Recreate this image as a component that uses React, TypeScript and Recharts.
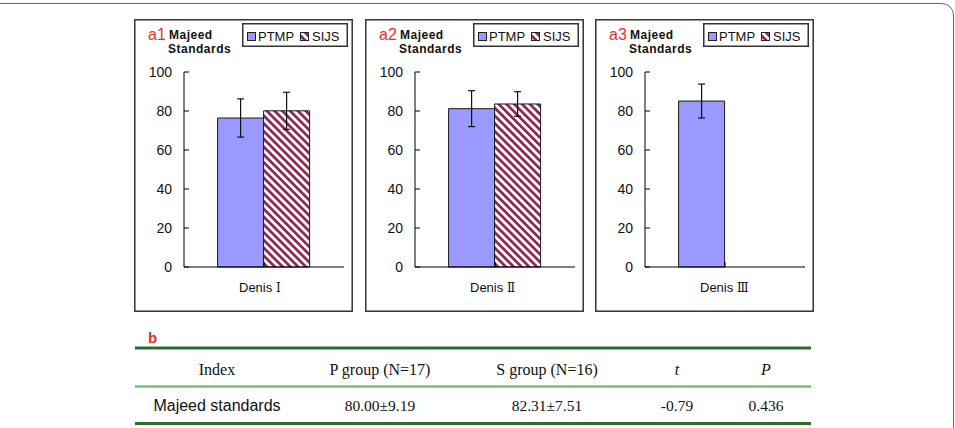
import React from 'react';
import { BarChart, Bar, XAxis, YAxis, ErrorBar, ReferenceLine } from 'recharts';

// ---- data ----
const panelLabels = ['a1', 'a2', 'a3'];
const categories = ['Denis Ⅰ', 'Denis Ⅱ', 'Denis Ⅲ'];
const ptmpValues = [76.4, 81.2, 85.1];
const ptmpErrors = [9.8, 9.2, 8.7];
const sijsValues: (number | null)[] = [80.1, 83.6, null];
const sijsErrors: (number | null)[] = [9.5, 6.3, null];
const yTicks = [0, 20, 40, 60, 80, 100];
const seriesNames = ['PTMP', 'SIJS'];
const panelTitle = ['Majeed', 'Standards'];
const tableLabel = 'b';
const tableHeaders = ['Index', 'P group (N=17)', 'S group (N=16)', 't', 'P'];
const tableRow = ['Majeed standards', '80.00±9.19', '82.31±7.51', '-0.79', '0.436'];

// ---- styles ----
const SANS = '"Liberation Sans", Arial, sans-serif';
const SERIF = '"Liberation Serif", "Times New Roman", serif';
const PTMP_FILL = '#9999FF';
const HATCH = '#8E2A55';
const RED = '#E5322D';
const panelLefts = [134, 365, 595];
const PANEL_TOP = 19;
const PANEL_W = 219;
const PANEL_H = 293;

const YTick = (props: any) => {
  const { x, y, payload } = props;
  return (
    <g>
      <line x1={x + 12} x2={x + 17} y1={y} y2={y} stroke="#000" strokeWidth={1} />
      <text x={x} y={y} dy={5} textAnchor="end" fontSize={14} fontFamily={SANS} fill="#111">
        {payload.value}
      </text>
    </g>
  );
};

const XTick = (props: any) => {
  const { x, y, payload } = props;
  const s = String(payload.value);
  const idx = s.lastIndexOf(' ');
  const word = s.slice(0, idx);
  const num = s.slice(idx + 1);
  return (
    <text x={x - 25} y={y + 25} textAnchor="start" fontSize={13} fontFamily={SANS} fill="#111">
      <tspan>{word} </tspan>
      <tspan fontFamily={'"DejaVu Serif", "Noto Sans CJK SC", serif'} fontSize={12}>{num}</tspan>
    </text>
  );
};

function Panel({ i }: { i: number }) {
  const data = [
    {
      cat: categories[i],
      ptmp: ptmpValues[i],
      ptmpErr: ptmpErrors[i],
      sijs: sijsValues[i],
      sijsErr: sijsErrors[i],
    },
  ];
  return (
    <div style={{ position: 'absolute', left: panelLefts[i], top: PANEL_TOP, width: PANEL_W, height: PANEL_H }}>
      <BarChart
        width={PANEL_W}
        height={PANEL_H}
        data={data}
        margin={{ top: 53, right: 9, bottom: 0, left: 0 }}
        barCategoryGap="21%"
        barGap={0}
      >
        <XAxis
          dataKey="cat"
          height={45}
          tickLine={false}
          tickSize={0}
          tickMargin={0}
          axisLine={{ stroke: '#000', strokeWidth: 1 }}
          tick={<XTick />}
          interval={0}
        />
        <XAxis xAxisId="edge" type="number" domain={[0, 1]} hide />
        <YAxis
          width={50}
          domain={[0, 100]}
          ticks={yTicks}
          interval={0}
          tickLine={false}
          tickSize={0}
          tickMargin={12}
          axisLine={{ stroke: '#000', strokeWidth: 1 }}
          tick={<YTick />}
        />
        <ReferenceLine
          xAxisId="edge"
          segment={[{ x: 1, y: 0 }, { x: 1, y: 2.6 }]}
          stroke="#000"
          strokeWidth={1}
        />
        <Bar dataKey="ptmp" fill={PTMP_FILL} stroke="#1a1a1a" strokeWidth={1} isAnimationActive={false}>
          <ErrorBar dataKey="ptmpErr" width={3.5} stroke="#111" strokeWidth={1.2} direction="y" />
        </Bar>
        <Bar dataKey="sijs" fill="url(#hatchSIJS)" stroke="#1a1a1a" strokeWidth={1} isAnimationActive={false}>
          <ErrorBar dataKey="sijsErr" width={3.5} stroke="#111" strokeWidth={1.2} direction="y" />
        </Bar>
      </BarChart>
      <svg
        width={PANEL_W}
        height={PANEL_H}
        style={{ position: 'absolute', left: 0, top: 0, pointerEvents: 'none' }}
      >
        <rect x={0.75} y={0.75} width={PANEL_W - 1.5} height={PANEL_H - 1.5} fill="none" stroke="#3a3a3a" strokeWidth={1.6} />
        <text x={14} y={21} fontSize={16} fontFamily={SANS} fill={RED}>{panelLabels[i]}</text>
        <text x={35} y={20} fontSize={12} letterSpacing={0.5} fontWeight="bold" fontFamily={SANS} fill="#111">{panelTitle[0]}</text>
        <text x={34} y={33.5} fontSize={12} letterSpacing={0.5} fontWeight="bold" fontFamily={SANS} fill="#111">{panelTitle[1]}</text>
        <rect x={108.75} y={4.75} width={104.5} height={22.5} fill="#fff" stroke="#333" strokeWidth={1.5} />
        <rect x={113.5} y={13.5} width={8} height={8} fill={PTMP_FILL} stroke="#222" strokeWidth={1} />
        <text x={124} y={22} fontSize={13} fontFamily={SANS} fill="#111">{seriesNames[0]}</text>
        <rect x={166.5} y={13.5} width={8} height={8} fill="url(#hatchSIJS)" stroke="#222" strokeWidth={1} />
        <text x={178} y={22} fontSize={13} fontFamily={SANS} fill="#111">{seriesNames[1]}</text>
      </svg>
    </div>
  );
}

export default function App() {
  const colX = [217, 380, 547, 677, 766];
  return (
    <div
      style={{
        position: 'fixed',
        left: 0,
        top: 0,
        width: 955,
        height: 428,
        background: '#fff',
        overflow: 'hidden',
        fontFamily: SANS,
      }}
    >
      <svg width={0} height={0} style={{ position: 'absolute' }}>
        <defs>
          <pattern id="hatchSIJS" patternUnits="userSpaceOnUse" width={5.5} height={5.5} patternTransform="rotate(-45)">
            <rect x={0} y={0} width={5.5} height={5.5} fill="#fff" />
            <rect x={0} y={0} width={2.8} height={5.5} fill={HATCH} />
          </pattern>
        </defs>
      </svg>
      <div
        style={{
          position: 'absolute',
          left: -20,
          top: 3,
          width: 974,
          height: 480,
          border: '1.5px solid #666',
          borderRadius: 12,
          boxSizing: 'border-box',
        }}
      />
      {panelLabels.map((_, i) => (
        <Panel key={i} i={i} />
      ))}
      <svg width={955} height={428} style={{ position: 'absolute', left: 0, top: 0 }}>
        <text x={148} y={343} fontSize={15} fontWeight="bold" fontFamily={SANS} fill={RED}>{tableLabel}</text>
        <line x1={135} x2={811} y1={348} y2={348} stroke="#2E6B30" strokeWidth={3} />
        {tableHeaders.map((h, k) => (
          <text
            key={h}
            x={colX[k]}
            y={375}
            textAnchor="middle"
            fontSize={16}
            fontFamily={SERIF}
            fontStyle={k >= 3 ? 'italic' : 'normal'}
            fill="#111"
          >
            {h}
          </text>
        ))}
        <line x1={135} x2={811} y1={386.5} y2={386.5} stroke="#5DB55D" strokeWidth={2} />
        {tableRow.map((v, k) => (
          <text
            key={v}
            x={colX[k]}
            y={411}
            textAnchor="middle"
            fontSize={k === 0 ? 16 : 15.5}
            fontFamily={k === 0 ? SANS : SERIF}
            fill="#111"
          >
            {v}
          </text>
        ))}
        <line x1={135} x2={811} y1={423.5} y2={423.5} stroke="#2E6B30" strokeWidth={3} />
      </svg>
    </div>
  );
}
